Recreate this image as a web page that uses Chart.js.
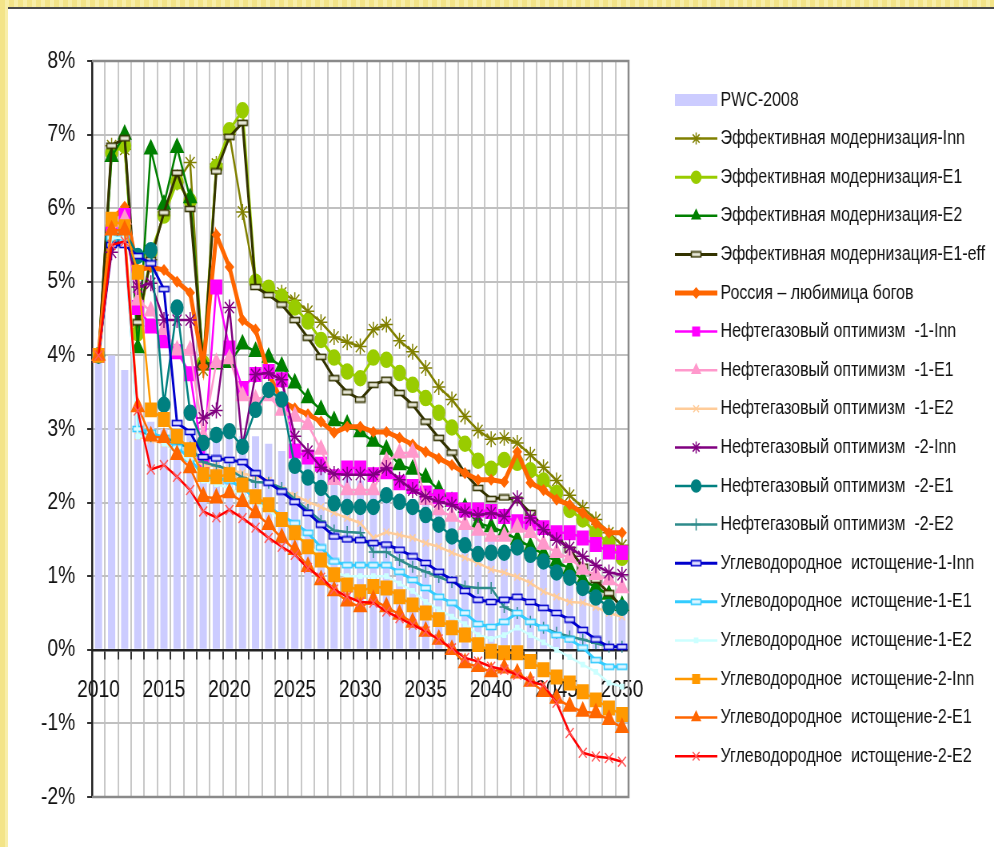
<!DOCTYPE html>
<html>
<head>
<meta charset="utf-8">
<script src="https://cdn.jsdelivr.net/npm/chart.js@4.4.1/dist/chart.umd.min.js"></script>
<style>
  html, body { margin: 0; padding: 0; }
  body {
    width: 994px; height: 847px; overflow: hidden; position: relative;
    background: repeating-linear-gradient(90deg, #f3e488 0px, #f3e488 5px, #f8eea8 5px, #f8eea8 9px);
  }
  #panel {
    position: absolute; left: 8px; top: 7px; width: 986px; height: 840px;
    background: #fff; border-top: 2px solid #4a4a4a;
  }
  #chart { position: absolute; left: 0; top: 0; width: 994px; height: 847px; }
</style>
</head>
<body>
<div id="panel"></div>
<canvas id="chart" width="1243" height="847" style="width:994px;height:847px"></canvas>
<script>
const years = ['2010','2011','2012','2013','2014','2015','2016','2017','2018','2019','2020',
  '2021','2022','2023','2024','2025','2026','2027','2028','2029','2030',
  '2031','2032','2033','2034','2035','2036','2037','2038','2039','2040',
  '2041','2042','2043','2044','2045','2046','2047','2048','2049','2050'];

const yTicks = [-2, -1, 0, 1, 2, 3, 4, 5, 6, 7, 8];

const pwc2008 = [4.0,4.0,3.8,3.2,3.1,3.0,3.0,3.0,2.95,2.9,2.9,2.9,2.9,2.8,2.7,2.65,2.6,2.5,2.4,2.35,2.3,2.2,2.15,2.1,2.05,2.0,1.9,1.8,1.7,1.6,1.5,1.4,1.3,1.2,1.15,1.05,0.95,0.85,0.75,0.65,0.6];

const effInn = [4.0,6.85,6.8,4.4,5.3,5.95,6.35,6.62,3.8,6.6,7.0,5.95,5.0,4.9,4.85,4.75,4.6,4.45,4.25,4.18,4.12,4.35,4.42,4.2,4.05,3.83,3.57,3.4,3.17,2.98,2.86,2.88,2.81,2.65,2.48,2.3,2.1,1.93,1.77,1.59,1.42];
const effE1 = [4.0,6.75,6.85,4.3,5.4,5.9,6.36,6.1,3.9,6.56,7.06,7.33,5.0,4.92,4.8,4.65,4.46,4.21,3.97,3.78,3.69,3.97,3.94,3.76,3.6,3.42,3.22,3.02,2.8,2.57,2.46,2.58,2.54,2.44,2.3,2.13,1.9,1.77,1.59,1.45,1.25];
const effE2 = [4.0,6.7,7.0,4.1,6.8,6.05,6.82,6.14,3.9,3.88,3.9,4.15,4.05,3.97,3.85,3.62,3.42,3.26,3.11,3.06,2.96,2.83,2.72,2.51,2.45,2.34,2.17,2.01,1.93,1.72,1.67,1.6,1.5,1.4,1.3,1.2,1.1,0.95,0.85,0.75,0.6];
const effE1eff = [4.0,6.85,6.95,4.45,5.3,5.94,6.48,5.99,3.85,6.5,6.97,7.16,4.93,4.82,4.69,4.48,4.24,3.98,3.69,3.5,3.4,3.6,3.67,3.49,3.33,3.1,2.88,2.68,2.4,2.2,2.05,2.07,2.04,1.86,1.67,1.53,1.36,1.13,0.95,0.77,0.58];
const russia = [4.0,5.85,6.02,5.16,5.2,5.16,5.0,4.85,3.85,5.64,5.2,4.48,4.35,3.75,3.38,3.28,3.2,3.1,2.95,3.03,3.03,2.96,2.96,2.88,2.79,2.69,2.6,2.51,2.4,2.31,2.31,2.28,2.69,2.27,2.17,2.04,1.97,1.86,1.72,1.59,1.59];
const oil1Inn = [4.0,5.7,5.9,4.65,4.4,4.2,4.05,3.75,2.55,4.93,4.1,3.55,3.74,3.78,3.67,2.7,2.62,2.52,2.35,2.47,2.47,2.38,2.42,2.27,2.22,2.13,2.08,2.04,1.9,1.9,1.88,1.81,1.74,1.72,1.66,1.59,1.59,1.52,1.43,1.33,1.32];
const oil1E1 = [4.0,5.7,5.85,4.75,4.6,4.35,4.07,4.07,2.9,3.9,3.95,3.45,3.4,3.45,3.25,3.17,3.06,2.72,2.31,2.17,2.17,2.17,2.56,2.67,2.68,2.04,1.9,1.81,1.7,1.62,1.54,1.54,1.66,1.59,1.43,1.32,1.25,1.09,1.02,0.95,0.84];
const oil1E2 = [4.0,5.6,5.75,2.9,2.85,2.8,2.7,2.65,2.5,2.5,2.45,2.4,2.35,2.3,2.18,2.1,2.01,1.94,1.86,1.79,1.72,1.52,1.6,1.56,1.52,1.45,1.4,1.32,1.25,1.18,1.09,1.05,0.99,0.91,0.79,0.72,0.65,0.64,0.58,0.5,0.45];
const oil2Inn = [4.0,5.4,5.7,4.93,4.98,4.48,4.48,4.48,3.15,3.25,4.65,2.76,3.74,3.76,3.67,2.9,2.7,2.48,2.39,2.38,2.38,2.38,2.47,2.31,2.17,2.08,2.01,1.97,1.87,1.83,1.86,1.81,2.06,1.79,1.63,1.49,1.39,1.27,1.15,1.05,1.02];
const oil2E1 = [4.0,5.6,5.7,5.35,5.43,3.33,4.65,3.22,2.81,2.92,2.97,2.76,3.26,3.53,3.4,2.5,2.34,2.2,1.99,1.94,1.94,1.94,2.1,2.01,1.94,1.83,1.7,1.54,1.42,1.3,1.32,1.32,1.39,1.29,1.2,1.05,0.98,0.84,0.71,0.58,0.57];
const oil2E2 = [4.0,5.5,5.65,3.0,2.9,2.9,2.8,2.75,2.55,2.5,2.45,2.34,2.28,2.27,2.2,2.05,1.9,1.75,1.62,1.6,1.59,1.33,1.33,1.22,1.13,1.06,0.99,0.92,0.86,0.84,0.84,0.58,0.5,0.38,0.3,0.23,0.18,0.14,0.09,0.04,0.04];
const hyd1Inn = [4.0,5.5,5.5,5.35,5.25,4.9,3.08,2.96,2.62,2.6,2.58,2.55,2.4,2.27,2.15,2.01,1.86,1.7,1.54,1.5,1.49,1.45,1.43,1.36,1.27,1.18,1.06,0.95,0.8,0.68,0.65,0.68,0.72,0.65,0.57,0.5,0.41,0.27,0.14,0.04,0.04];
const hyd1E1 = [4.0,5.6,5.6,3.0,2.95,2.88,2.75,2.6,2.35,2.33,2.3,2.2,2.05,1.95,1.82,1.72,1.59,1.39,1.2,1.15,1.15,1.15,1.15,1.06,0.95,0.84,0.72,0.64,0.5,0.35,0.31,0.38,0.5,0.38,0.3,0.2,0.14,0.03,-0.14,-0.23,-0.23];
const hyd1E2 = [4.0,5.6,5.6,2.9,2.9,2.8,2.7,2.55,2.3,2.25,2.2,2.1,2.0,1.9,1.75,1.6,1.45,1.25,1.05,1.0,1.0,1.0,1.0,0.9,0.8,0.65,0.55,0.45,0.35,0.2,0.15,0.2,0.3,0.2,0.1,0.0,-0.1,-0.2,-0.3,-0.45,-0.5];
const hyd2Inn = [4.0,5.85,5.75,5.13,3.26,3.13,2.9,2.72,2.38,2.35,2.38,2.24,2.08,1.97,1.77,1.59,1.4,1.22,1.02,0.88,0.79,0.86,0.84,0.72,0.61,0.5,0.41,0.3,0.2,0.07,-0.02,-0.04,-0.04,-0.16,-0.27,-0.37,-0.45,-0.57,-0.68,-0.79,-0.88];
const hyd2E1 = [4.0,5.7,5.7,3.3,2.9,2.88,2.65,2.47,2.08,2.06,2.13,2.01,1.86,1.7,1.52,1.36,1.13,0.95,0.8,0.66,0.58,0.68,0.58,0.48,0.37,0.25,0.14,0.0,-0.18,-0.23,-0.3,-0.25,-0.32,-0.43,-0.57,-0.66,-0.77,-0.84,-0.86,-0.95,-1.06];
const hyd2E2 = [4.0,5.5,5.55,3.25,2.45,2.51,2.35,2.17,1.88,1.8,1.9,1.79,1.66,1.52,1.4,1.29,1.11,0.98,0.82,0.72,0.65,0.64,0.52,0.43,0.34,0.25,0.14,0.02,-0.11,-0.16,-0.23,-0.27,-0.34,-0.43,-0.48,-0.72,-1.13,-1.4,-1.45,-1.47,-1.52];

// small hollow dash markers used by a few series
function dashMarker(stroke, fill) {
  const c = document.createElement('canvas');
  c.width = 15; c.height = 8;
  const g = c.getContext('2d');
  g.fillStyle = fill;
  g.fillRect(1, 1, 13, 6);
  g.strokeStyle = stroke;
  g.lineWidth = 1.6;
  g.strokeRect(1.5, 1.5, 12, 5);
  return c;
}

function lineSet(label, data, color, width, style, radius, fill, border) {
  return {
    type: 'line', label: label, data: data,
    borderColor: color, borderWidth: width,
    pointStyle: style, pointRadius: radius, pointHoverRadius: radius,
    pointBackgroundColor: fill || color, pointBorderColor: border || color,
    pointBorderWidth: 1.5, tension: 0, fill: false
  };
}

const lines = [
  lineSet('Эффективная модернизация-Inn', effInn, '#808000', 2.5, 'star', 8),
  lineSet('Эффективная модернизация-E1', effE1, '#99cc00', 3, 'circle', 7.5),
  lineSet('Эффективная модернизация-E2', effE2, '#008000', 2.5, 'triangle', 9),
  lineSet('Эффективная модернизация-E1-eff', effE1eff, '#333300', 3, dashMarker('#333300', '#e8e8d8'), 7),
  lineSet('Россия – любимица богов', russia, '#ff6600', 5, 'rectRot', 5),
  lineSet('Нефтегазовый оптимизм  -1-Inn', oil1Inn, '#ff00ff', 2.5, 'rect', 9.5),
  lineSet('Нефтегазовый оптимизм  -1-E1', oil1E1, '#ff99cc', 2.5, 'triangle', 9),
  lineSet('Нефтегазовый оптимизм  -1-E2', oil1E2, '#ffcc99', 2.5, 'crossRot', 5),
  lineSet('Нефтегазовый оптимизм  -2-Inn', oil2Inn, '#800080', 2.5, 'star', 8),
  lineSet('Нефтегазовый оптимизм  -2-E1', oil2E1, '#008080', 2.5, 'circle', 7.5),
  lineSet('Нефтегазовый оптимизм  -2-E2', oil2E2, '#2e8b8b', 2.5, 'cross', 6),
  lineSet('Углеводородное  истощение-1-Inn', hyd1Inn, '#0000cc', 3, dashMarker('#0000cc', '#e0e0ff'), 7),
  lineSet('Углеводородное  истощение-1-E1', hyd1E1, '#33ccff', 3, dashMarker('#33ccff', '#e0f6ff'), 7),
  lineSet('Углеводородное  истощение-1-E2', hyd1E2, '#ccffff', 2.5, 'rect', 3),
  lineSet('Углеводородное  истощение-2-Inn', hyd2Inn, '#ff9900', 2.5, 'rect', 9.5),
  lineSet('Углеводородное  истощение-2-E1', hyd2E1, '#ff6600', 2.5, 'triangle', 9),
  lineSet('Углеводородное  истощение-2-E2', hyd2E2, '#ff0000', 2.5, 'crossRot', 7, '#ff5a5a', '#ff5a5a')
];
// later series sit on top, like in the original
lines.forEach((ds, i) => { ds.order = 100 - i; });

const datasets = [{
  type: 'bar', label: 'PWC-2008', data: pwc2008,
  backgroundColor: '#ccccff', borderWidth: 0,
  categoryPercentage: 1.0, barPercentage: 0.55, order: 200
}].concat(lines);

const FONT = '"Liberation Sans", Arial, sans-serif';

const frame = {
  id: 'frame',
  beforeDatasetsDraw(chart) {
    const a = chart.chartArea, ctx = chart.ctx;
    ctx.save();
    ctx.strokeStyle = '#8a8a8a';
    ctx.lineWidth = 2.5;
    ctx.beginPath();
    ctx.moveTo(a.left, a.top);
    ctx.lineTo(a.right, a.top);
    ctx.lineTo(a.right, a.bottom);
    ctx.lineTo(a.left, a.bottom);
    ctx.stroke();
    ctx.restore();
  }
};

const sideLegend = {
  id: 'sideLegend',
  afterDraw(chart) {
    const ctx = chart.ctx;
    const x0 = 844, x1 = 897, tx = 901;
    ctx.save();
    ctx.font = '20px ' + FONT;
    ctx.textBaseline = 'middle';
    chart.data.datasets.forEach((ds, i) => {
      const y = 100 + i * 38.6;
      if (ds.type === 'bar') {
        ctx.fillStyle = ds.backgroundColor;
        ctx.fillRect(x0, y - 6, x1 - x0, 12);
      } else {
        ctx.strokeStyle = ds.borderColor;
        ctx.lineWidth = ds.borderWidth;
        ctx.beginPath();
        ctx.moveTo(x0, y);
        ctx.lineTo(x1, y);
        ctx.stroke();
        ctx.fillStyle = ds.pointBackgroundColor;
        ctx.strokeStyle = ds.pointBorderColor;
        ctx.lineWidth = ds.pointBorderWidth;
        Chart.helpers.drawPoint(ctx, {
          pointStyle: ds.pointStyle, radius: Math.min(ds.pointRadius, 6),
          borderWidth: ds.pointBorderWidth, rotation: 0
        }, (x0 + x1) / 2, y);
      }
      ctx.fillStyle = '#111';
      ctx.fillText(ds.label, tx, y);
    });
    ctx.restore();
  }
};

new Chart(document.getElementById('chart'), {
  data: { labels: years, datasets: datasets },
  options: {
    responsive: false,
    animation: false,
    events: [],
    layout: { padding: { left: 40, right: 457, top: 61, bottom: 50 } },
    plugins: { legend: { display: false }, tooltip: { enabled: false } },
    scales: {
      x: {
        type: 'category',
        position: { y: 0 },
        offset: true,
        grid: { offset: true, color: '#c8c8c8', lineWidth: 2, tickColor: '#333', tickLength: 8 },
        border: { color: '#222', width: 2.5 },
        ticks: {
          autoSkip: false, maxRotation: 0, padding: 18,
          color: '#111', font: { family: FONT, size: 24 },
          callback: function (v, i) { return (i % 5 === 0) ? years[i] : ''; }
        },
        afterFit: function (s) { s.height = 40; }
      },
      y: {
        min: -2, max: 8,
        afterBuildTicks: function (s) { s.ticks = yTicks.map(v => ({ value: v })); },
        grid: { color: '#c0c0c0', lineWidth: 2, tickColor: '#333', tickLength: 6 },
        border: { color: '#222', width: 2.5 },
        ticks: {
          padding: 15, color: '#111', font: { family: FONT, size: 24 },
          callback: function (v) { return v + '%'; }
        },
        afterFit: function (s) { s.width = 75; }
      }
    }
  },
  plugins: [frame, sideLegend]
});
</script>
</body>
</html>
